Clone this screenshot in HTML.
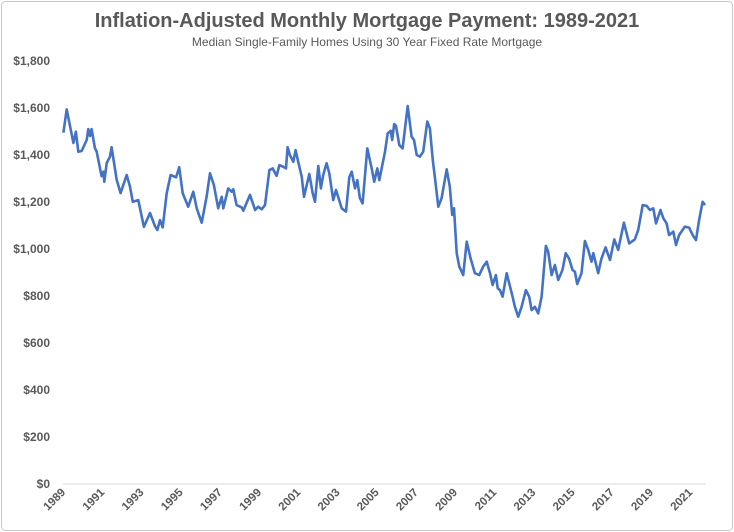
<!DOCTYPE html>
<html><head><meta charset="utf-8"><style>
html,body{margin:0;padding:0;background:#fff;}
svg{display:block;font-family:"Liberation Sans",Arial,sans-serif;}
</style></head><body>
<svg id="chart" width="734" height="532" viewBox="0 0 734 532">
<rect x="1.5" y="1.5" width="731" height="529" rx="4" fill="#fff" stroke="#c8c8c8"/>
<text x="367" y="27" text-anchor="middle" font-size="20" font-weight="bold" fill="#595959">Inflation-Adjusted Monthly Mortgage Payment: 1989-2021</text>
<text x="367" y="46" text-anchor="middle" font-size="12" fill="#595959">Median Single-Family Homes Using 30 Year Fixed Rate Mortgage</text>
<g id="yaxis"></g>
<g id="xaxis"></g>
<path id="line" fill="none" stroke="#4472C4" stroke-width="2.6" stroke-linejoin="round"/>
</svg>
<script>
const yTicks=[0,200,400,600,800,1000,1200,1400,1600,1800];
const yTickLabels=["$0","$200","$400","$600","$800","$1,000","$1,200","$1,400","$1,600","$1,800"];
const xTicks=[1989,1991,1993,1995,1997,1999,2001,2003,2005,2007,2009,2011,2013,2015,2017,2019,2021];
const dates=[1989.02,1989.19,1989.53,1989.66,1989.78,1989.95,1990.21,1990.29,1990.38,1990.46,1990.63,1990.72,1990.97,1991.06,1991.11,1991.23,1991.40,1991.48,1991.74,1991.94,1992.25,1992.42,1992.56,1992.84,1993.13,1993.44,1993.69,1993.81,1993.95,1994.09,1994.29,1994.49,1994.77,1994.93,1995.11,1995.39,1995.65,1995.82,1996.08,1996.33,1996.50,1996.70,1996.92,1997.10,1997.18,1997.43,1997.61,1997.69,1997.86,1998.12,1998.20,1998.54,1998.80,1998.96,1999.14,1999.31,1999.53,
1999.70,1999.90,2000.04,2000.24,2000.38,2000.46,2000.58,2000.75,2000.87,2001.00,2001.18,2001.30,2001.57,2001.74,2001.86,2002.03,2002.16,2002.28,2002.45,2002.59,2002.79,2002.93,2003.22,2003.44,2003.61,2003.73,2003.90,2004.02,2004.15,2004.29,2004.53,2004.75,2004.88,2005.04,2005.14,2005.43,2005.57,2005.72,2005.80,2005.90,2005.99,2006.16,2006.33,2006.59,2006.79,2006.91,2007.05,2007.21,2007.38,2007.59,2007.72,2007.87,2007.98,2008.15,2008.32,2008.58,2008.74,2008.86,2008.95,2009.09,2009.22,2009.42,2009.60,2009.80,2010.02,2010.24,2010.44,2010.62,2010.79,2010.92,2011.09,2011.18,2011.30,2011.43,2011.64,2011.77,2011.94,2012.06,2012.23,2012.40,2012.62,2012.79,2012.91,2013.08,2013.25,2013.42,2013.64,2013.76,2013.93,2014.10,2014.27,2014.49,2014.65,2014.82,2015.00,2015.12,2015.24,2015.46,2015.63,2015.80,2015.97,2016.06,2016.31,2016.48,2016.69,2016.91,2017.13,2017.33,2017.62,2017.89,2018.18,2018.35,2018.58,2018.78,2018.95,2019.12,2019.26,2019.49,2019.63,2019.80,2019.93,2020.14,2020.28,2020.44,2020.73,2020.95,2021.13,2021.30,2021.46,2021.64,2021.76];
const payments=[1495,1594,1451,1499,1414,1417,1464,1510,1481,1510,1430,1414,1310,1329,1286,1366,1393,1433,1294,1238,1315,1265,1201,1208,1094,1153,1098,1081,1123,1092,1237,1315,1305,1348,1237,1180,1244,1173,1112,1222,1322,1272,1173,1222,1173,1258,1244,1254,1187,1177,1163,1230,1166,1180,1169,1187,1336,
1343,1311,1357,1350,1343,1433,1400,1371,1421,1371,1308,1222,1319,1237,1201,1353,1258,1315,1365,1322,1208,1251,1173,1159,1305,1329,1258,1293,1216,1194,1428,1343,1286,1343,1293,1414,1492,1503,1464,1532,1524,1442,1428,1608,1478,1464,1400,1393,1414,1542,1513,1378,1301,1180,1216,1339,1265,1145,1173,982,925,889,1031,960,897,889,925,946,897,847,889,833,825,797,897,854,797,754,712,754,825,797,740,754,726,797,1013,988,889,932,868,911,982,960,911,903,851,897,1034,996,946,982,897,960,1007,953,1041,996,1112,1024,1041,1081,1187,1184,1166,1173,1109,1166,1131,1109,1059,1074,1017,1059,1095,1091,1059,1038,1123,1201,1187];
const X0=63,X1=705,T0=1989,T1=2021.76,Y0=484,Y1=61,V1=1800;
const xs=t=>X0+(t-T0)*(X1-X0)/(T1-T0);
const ys=v=>Y0-(v/V1)*(Y0-Y1);
const NS="http://www.w3.org/2000/svg";
const ya=document.getElementById('yaxis'),xa=document.getElementById('xaxis');
const base=document.createElementNS(NS,'line');


base.setAttribute('x1',63);base.setAttribute('x2',706);base.setAttribute('y1',ys(0));base.setAttribute('y2',ys(0));
base.setAttribute('stroke','#d9d9d9');base.setAttribute('stroke-width','1');
xa.appendChild(base);
yTicks.forEach((v,i)=>{
  const t=document.createElementNS(NS,'text');
  
  
  t.setAttribute('x',50);t.setAttribute('y',ys(v)+4);
  t.setAttribute('text-anchor','end');t.setAttribute('font-size','12');t.setAttribute('font-weight','bold');t.setAttribute('fill','#595959');
  t.textContent=yTickLabels[i];ya.appendChild(t);
});
xTicks.forEach(yr=>{
  const t=document.createElementNS(NS,'text');
  
  
  const x=xs(yr)+3,y=493;
  t.setAttribute('x',x);t.setAttribute('y',y);
  t.setAttribute('text-anchor','end');t.setAttribute('font-size','11.5');t.setAttribute('font-weight','bold');t.setAttribute('fill','#595959');
  t.setAttribute('transform','rotate(-45 '+x+' '+y+')');
  t.textContent=yr;xa.appendChild(t);
});
let d='';
dates.forEach((t,i)=>{d+=(i?'L':'M')+xs(t).toFixed(1)+','+ys(payments[i]).toFixed(1);});
document.getElementById('line').setAttribute('d',d);
</script>
</body></html>
